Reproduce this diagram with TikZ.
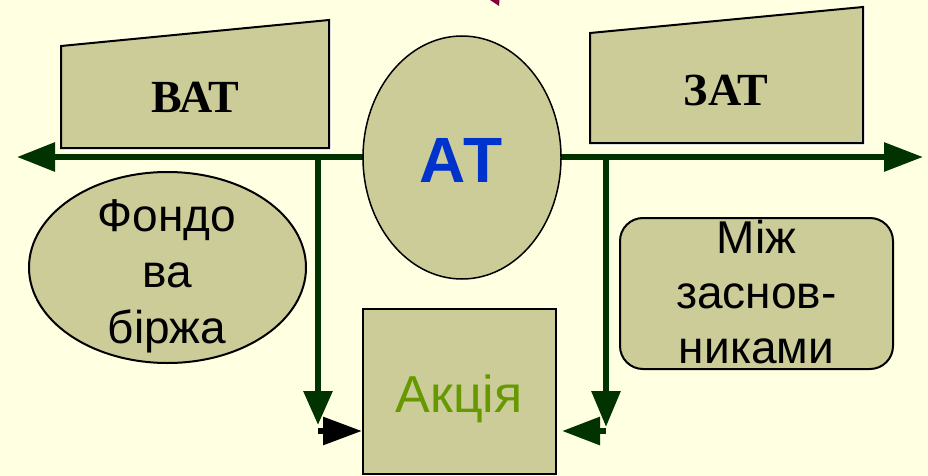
\documentclass[tikz,border=0pt]{standalone}
\usepackage{fontspec}
\setmainfont{Liberation Serif}
\setsansfont{Liberation Sans}
\usetikzlibrary{arrows.meta,shapes.geometric}
\definecolor{bg}{HTML}{FFFFE1}
\definecolor{olivefill}{HTML}{CCCC99}
\definecolor{dgreen}{HTML}{003300}
\definecolor{atblue}{HTML}{0033CC}
\definecolor{akgreen}{HTML}{669900}
\definecolor{mag}{HTML}{800040}
\tikzset{
  shapebox/.style={draw=black,line width=2pt,fill=olivefill,line join=miter},
  gline/.style={draw=dgreen,line width=6pt},
  sidetext/.style={font=\sffamily\fontsize{46}{56}\selectfont,align=center,inner sep=0pt},
  titletext/.style={font=\bfseries\fontsize{46}{50}\selectfont,inner sep=0pt,anchor=base},
}
\begin{document}
\begin{tikzpicture}[x=1pt,y=-1pt]
\fill[bg] (0,0) rectangle (928,476);
\useasboundingbox (0,0) rectangle (928,476);
% top fragment
\fill[mag] (490,0) -- (499.5,0) -- (499,6) -- cycle;
% trapezoids with white shadow
\fill[white,xshift=3pt,yshift=-3pt] (61,46) -- (329,20) -- (329,148) -- (61,148) -- cycle;
\draw[shapebox] (61,46) -- (329,20) -- (329,148) -- (61,148) -- cycle;
\node[titletext] (vat) at (195,113) {ВАТ};
\fill[white,xshift=3pt,yshift=-3pt] (590,33) -- (863,7) -- (863,143) -- (590,143) -- cycle;
\draw[shapebox] (590,33) -- (863,7) -- (863,143) -- (590,143) -- cycle;
\node[titletext] (zat) at (726,106) {ЗАТ};
% main line
\coordinate (L) at (17,157);
\coordinate (R) at (923,157);
\draw[gline,{Triangle[length=38pt,width=28pt]}-{Triangle[length=39pt,width=28pt]}] (L) -- (R);
% vertical lines
\coordinate (jl) at (318,157);
\coordinate (jle) at (318,425);
\coordinate (jr) at (606,157);
\coordinate (jre) at (606,427);
\draw[gline,-{Triangle[length=34pt,width=28pt]}] (jl) -- (jle);
\draw[gline,-{Triangle[length=36pt,width=28pt]}] (jr) -- (jre);
% central ellipse
\node[ellipse,draw=black,line width=1.5pt,fill=olivefill,minimum width=198pt,minimum height=243pt,inner sep=0pt] (at) at (462,157.5) {};
\node[font=\sffamily\bfseries\fontsize{64}{70}\selectfont,text=atblue,anchor=base,inner sep=0pt] (attext) at (461,182) {АТ};
% left ellipse
\node[ellipse,draw=black,line width=2pt,fill=olivefill,minimum width=277pt,minimum height=191pt,inner sep=0pt] (fb) at (167.5,267.5) {};
\node[sidetext] (fbtext) at (167,276) {Фондо\\ва\\біржа};
% right rounded box
\node[draw=black,line width=2pt,fill=olivefill,rounded corners=23pt,minimum width=273pt,minimum height=151pt,inner sep=0pt] (mz) at (756.5,293.5) {};
\node[sidetext,font=\sffamily\fontsize{46}{55}\selectfont] (mztext) at (756.5,292) {Між\\заснов-\\никами};
% Akcia box
\node[draw=black,line width=2pt,fill=olivefill,minimum width=193pt,minimum height=165pt,inner sep=0pt] (akc) at (459.5,391.5) {};
\node[font=\sffamily\fontsize{52}{56}\selectfont,text=akgreen,anchor=base,inner sep=0pt] (akctext) at (459,412) {Акція};
% arrows to Akcia
\coordinate (bl) at (318,431);
\coordinate (br) at (606,431);
\draw[line width=6pt,black,-{Triangle[length=39pt,width=27pt]}] (bl) -- (akc.west |- bl);
\draw[gline,-{Triangle[length=38pt,width=27pt]}] (br) -- ([xshift=5pt]akc.east |- br);
\end{tikzpicture}
\end{document}
